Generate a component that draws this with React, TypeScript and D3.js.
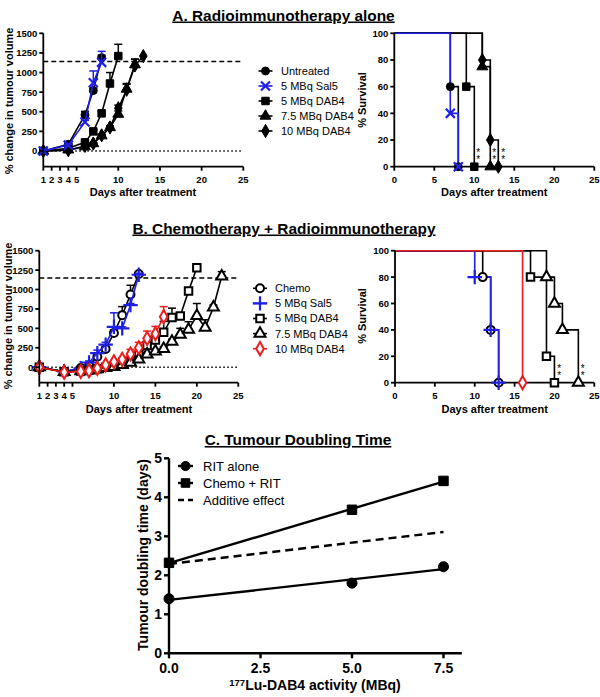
import React from 'react';
import * as d3 from 'd3';

const FONT = "'Liberation Sans', Arial, Helvetica, sans-serif";

// ---------- Panel A: tumour growth (RIT alone) ----------
const aUntreatedDays = [1, 4, 6, 7, 8];
const aUntreatedMean = [0, 85, 460, 770, 1190];
const aUntreatedSem = [0, 10, 45, 30, 30];
const aSal5Days = [1, 4, 6, 7, 8];
const aSal5Mean = [0, 75, 370, 870, 1130];
const aSal5Sem = [0, 10, 20, 150, 140];
const aDab5Days = [1, 4, 6, 7, 8, 9, 10];
const aDab5Mean = [0, 35, 110, 250, 480, 860, 1210];
const aDab5Sem = [0, 10, 15, 20, 30, 140, 150];
const aDab75Days = [1, 4, 6, 7, 8, 9, 10, 11, 12];
const aDab75Mean = [0, 15, 55, 95, 195, 300, 470, 790, 1100];
const aDab75Sem = [0, 5, 10, 10, 15, 20, 40, 60, 70];
const aDab10Days = [1, 4, 6, 7, 8, 9, 10, 11, 12, 13];
const aDab10Mean = [0, 10, 65, 95, 200, 300, 545, 780, 1090, 1210];
const aDab10Sem = [0, 5, 10, 10, 15, 20, 40, 80, 80, 0];

// ---------- Panel A: survival ----------
const sAUntreatedT = [0, 7, 8];
const sAUntreatedS = [100, 60, 0];
const sASal5T = [0, 7, 8];
const sASal5S = [100, 40, 0];
const sADab5T = [0, 9, 10];
const sADab5S = [100, 60, 0];
const sADab75T = [0, 11, 12];
const sADab75S = [100, 75, 0];
const sADab10T = [0, 11, 12, 13];
const sADab10S = [100, 80, 20, 0];
const sAStarDays = [10.5, 12.5, 13.6];

// ---------- Panel B: tumour growth (Chemo + RIT) ----------
const bChemoDays = [1, 4, 6, 7, 8, 9, 10, 11, 12, 13];
const bChemoMean = [0, -60, -10, 20, 135, 235, 440, 670, 935, 1200];
const bChemoSem = [0, 10, 10, 15, 20, 30, 40, 110, 120, 20];
const bSal5Days = [1, 4, 6, 7, 8, 9, 10, 11, 12, 13];
const bSal5Mean = [0, -55, -15, 60, 180, 290, 520, 500, 800, 1190];
const bSal5Sem = [0, 10, 10, 20, 40, 30, 180, 20, 20, 20];
const bDab5Days = [1, 4, 6, 7, 8, 9, 10, 11, 12, 13, 14, 15, 16, 17, 18, 19, 20];
const bDab5Mean = [0, -60, -50, -35, -20, 0, 15, 40, 80, 160, 280, 350, 450, 640, 660, 980, 1280];
const bDab5Sem = [0, 10, 10, 10, 10, 10, 10, 15, 20, 30, 40, 40, 140, 120, 30, 30, 20];
const bDab75Days = [1, 4, 6, 7, 8, 9, 10, 11, 12, 13, 14, 15, 16, 17, 18, 19, 20, 21, 22, 23];
const bDab75Mean = [0, -60, -50, -40, -25, -10, 5, 30, 60, 100, 165, 205, 235, 330, 420, 485, 660, 510, 770, 1170];
const bDab75Sem = [0, 10, 10, 10, 10, 10, 10, 10, 15, 20, 20, 25, 30, 30, 80, 100, 160, 100, 30, 60];
const bDab10Days = [1, 4, 6, 7, 8, 9, 10, 11, 12, 13, 14, 15, 16];
const bDab10Mean = [0, -65, -55, -45, -15, 30, 70, 100, 170, 250, 370, 430, 650];
const bDab10Sem = [0, 10, 10, 10, 10, 15, 15, 20, 60, 70, 95, 95, 130];

// ---------- Panel B: survival ----------
const sBChemoT = [0, 11, 12, 13];
const sBChemoS = [100, 80, 40, 0];
const sBSal5T = [0, 10, 12, 13];
const sBSal5S = [100, 80, 40, 0];
const sBDab5T = [0, 17, 19, 20];
const sBDab5S = [100, 80, 20, 0];
const sBDab75T = [0, 19, 20, 21, 23];
const sBDab75S = [100, 80, 60, 40, 0];
const sBDab10T = [0, 16];
const sBDab10S = [100, 0];
const sBStarDays = [20.6, 23.55];

// ---------- Panel C: doubling time ----------
const cActivity = [0, 5, 7.5];
const cRitAlone = [1.4, 1.8, 2.22];
const cChemoRit = [2.32, 3.68, 4.42];
const cAdditiveX = [0, 7.5];
const cAdditiveY = [2.29, 3.11];

// ---------- tick labels ----------
const growthYTicks = [0, 250, 500, 750, 1000, 1250, 1500];
const growthXTicks = [1, 2, 3, 4, 5, 10, 15, 20, 25];
const survYTicks = [0, 20, 40, 60, 80, 100];
const survXTicks = [0, 5, 10, 15, 20, 25];
const cYTicks = [0, 1, 2, 3, 4, 5];
const cXTicks = [0, 2.5, 5, 7.5];

const legendA = ['Untreated', '5 MBq Sal5', '5 MBq DAB4', '7.5 MBq DAB4', '10 MBq DAB4'];
const legendB = ['Chemo', '5 MBq Sal5', '5 MBq DAB4', '7.5 MBq DAB4', '10 MBq DAB4'];
const legendC = ['RIT alone', 'Chemo + RIT', 'Additive effect'];

const BLUE = '#1f1fe6';
const RED = '#ee1c1c';
const TICK_FS = 9.5;
const LABEL_FS = 11;

type Sym = 'circle' | 'square' | 'triangle' | 'diamond' | 'x' | 'plus';
const symType: Record<Sym, any> = {
  circle: d3.symbolCircle,
  square: d3.symbolSquare,
  triangle: d3.symbolTriangle,
  diamond: d3.symbolDiamond,
  x: d3.symbolX,
  plus: d3.symbolPlus,
};
const symSize: Record<Sym, number> = {
  circle: 50, square: 56, triangle: 52, diamond: 50, x: 55, plus: 70,
};

function Marker({ x, y, sym, color, open, scale = 1 }: any) {
  const path = d3.symbol().type(symType[sym as Sym]).size(symSize[sym as Sym] * scale)() as string;
  const strokeOnly = sym === 'x' || sym === 'plus';
  return (
    <path
      d={path}
      transform={`translate(${x},${y})`}
      fill={strokeOnly ? 'none' : open ? '#fff' : color}
      stroke={color}
      strokeWidth={strokeOnly ? 2.2 : open ? 2 : 1}
    />
  );
}

function GrowthSeries({ days, mean, sem, xs, ys, sym, color, open }: any) {
  const pts = days.map((d: number, i: number) => [xs(d), ys(mean[i])]);
  const line = d3.line()(pts) as string;
  return (
    <g>
      {days.map((d: number, i: number) =>
        sem[i] > 0 ? (
          <g key={i}>
            <line x1={xs(d)} x2={xs(d)} y1={ys(mean[i])} y2={ys(mean[i] + sem[i])} stroke={color} strokeWidth={1.5} />
            <line x1={xs(d) - 4} x2={xs(d) + 4} y1={ys(mean[i] + sem[i])} y2={ys(mean[i] + sem[i])} stroke={color} strokeWidth={1.5} />
          </g>
        ) : null
      )}
      <path d={line} fill="none" stroke={color} strokeWidth={1.6} />
      {days.map((d: number, i: number) => (
        <Marker key={'m' + i} x={xs(d)} y={ys(mean[i])} sym={sym} color={color} open={open} />
      ))}
    </g>
  );
}

function SurvivalLine({ t, s, xs, ys, color }: any) {
  const pts = t.map((d: number, i: number) => [xs(d), ys(s[i])]);
  const line = d3.line().curve(d3.curveStepAfter)(pts) as string;
  return <path d={line} fill="none" stroke={color} strokeWidth={1.6} />;
}
function SurvivalMarkers({ t, s, xs, ys, sym, color, open }: any) {
  return (
    <g>
      {t.slice(1).map((d: number, i: number) => (
        <Marker key={i} x={xs(d)} y={ys(s[i + 1])} sym={sym} color={color} open={open} />
      ))}
    </g>
  );
}

function AxisLeft({ scale, x, ticks, fmt, fontSize = TICK_FS, len = 4, sw = 1.8, domain }: any) {
  const [d0, d1] = domain || scale.domain();
  return (
    <g>
      <line x1={x} x2={x} y1={scale(d0)} y2={scale(d1)} stroke="#000" strokeWidth={sw} />
      {ticks.map((t: number) => (
        <g key={t}>
          <line x1={x - len} x2={x} y1={scale(t)} y2={scale(t)} stroke="#000" strokeWidth={sw} />
          <text x={x - len - 2} y={scale(t)} dy="0.36em" textAnchor="end" fontSize={fontSize} fontWeight="bold" fontFamily={FONT}>
            {fmt ? fmt(t) : t}
          </text>
        </g>
      ))}
    </g>
  );
}
function AxisBottom({ scale, y, ticks, fmt, fontSize = TICK_FS, len = 4, sw = 1.8, domain, labelDy = 12.5 }: any) {
  const [d0, d1] = domain || scale.domain();
  return (
    <g>
      <line x1={scale(d0)} x2={scale(d1)} y1={y} y2={y} stroke="#000" strokeWidth={sw} />
      {ticks.map((t: number) => (
        <g key={t}>
          <line x1={scale(t)} x2={scale(t)} y1={y} y2={y + len} stroke="#000" strokeWidth={sw} />
          <text x={scale(t)} y={y + labelDy} dy="0.36em" textAnchor="middle" fontSize={fontSize} fontWeight="bold" fontFamily={FONT}>
            {fmt ? fmt(t) : t}
          </text>
        </g>
      ))}
    </g>
  );
}

function Title({ x, y, text }: any) {
  return (
    <text x={x} y={y} textAnchor="middle" fontSize={15.4} fontWeight="bold" fontFamily={FONT} textDecoration="underline">
      {text}
    </text>
  );
}

// two stacked asterisks as one vertical text run
function Stars({ days, xs, ys }: any) {
  return (
    <g>
      {days.map((d: number, i: number) => (
        <text
          key={i}
          x={xs(d)}
          y={ys(15)}
          fontSize={10}
          fontFamily={FONT}
          style={{ writingMode: 'vertical-rl', textOrientation: 'upright', letterSpacing: '-4px' } as any}
        >
          **
        </text>
      ))}
    </g>
  );
}

function Legend({ x, text, y0, dy, items, syms, colors, open, fontSize = 11 }: any) {
  return (
    <g>
      {items.map((lab: string, i: number) => (
        <g key={i}>
          <line x1={x - 7} x2={x + 7} y1={y0 + i * dy} y2={y0 + i * dy} stroke={colors[i]} strokeWidth={1.6} />
          <Marker x={x} y={y0 + i * dy} sym={syms[i]} color={colors[i]} open={open} />
          <text x={text} y={y0 + i * dy} dy="0.36em" fontSize={fontSize} fontFamily={FONT}>{lab}</text>
        </g>
      ))}
    </g>
  );
}

export default function App() {
  // Panel A scales
  const xA = d3.scaleLinear().domain([1, 25]).range([43.3, 243.3]);
  const yA = d3.scaleLinear().domain([-200, 1500]).range([166.7, 33.3]);
  const xSA = d3.scaleLinear().domain([0, 25]).range([394.3, 594.3]);
  const ySA = d3.scaleLinear().domain([0, 100]).range([166.7, 33.3]);
  // Panel B scales
  const xB = d3.scaleLinear().domain([1, 25]).range([39.3, 238.3]);
  const yB = d3.scaleLinear().domain([-200, 1500]).range([382.7, 250.7]);
  const xSB = d3.scaleLinear().domain([0, 25]).range([395, 594.3]);
  const ySB = d3.scaleLinear().domain([0, 100]).range([382.7, 250.7]);
  // Panel C scales
  const xC = d3.scaleLinear().domain([0, 8]).range([169, 461.8]);
  const yC = d3.scaleLinear().domain([0, 5]).range([653.3, 458.3]);

  const reg = (xs: number[], ys: number[]) => {
    const mx = d3.mean(xs) as number;
    const my = d3.mean(ys) as number;
    const sxy = d3.sum(xs.map((v, i) => (v - mx) * (ys[i] - my)));
    const sxx = d3.sum(xs.map((v) => (v - mx) ** 2));
    const b = sxy / sxx;
    return [my - b * mx, b];
  };
  const [aR, bR] = reg(cActivity, cRitAlone);
  const [aC, bC] = reg(cActivity, cChemoRit);
  const lineC = d3.line<number[]>().x((d) => xC(d[0])).y((d) => yC(d[1]));

  const symsA: Sym[] = ['circle', 'x', 'square', 'triangle', 'diamond'];
  const colsA = ['#000', BLUE, '#000', '#000', '#000'];
  const symsB: Sym[] = ['circle', 'plus', 'square', 'triangle', 'diamond'];
  const colsB = ['#000', BLUE, '#000', '#000', RED];

  const axisLabel = (x: number, y: number, text: string, rotate = false, fs = LABEL_FS) => (
    <text
      transform={rotate ? `translate(${x},${y}) rotate(-90)` : `translate(${x},${y})`}
      dy="0.36em" textAnchor="middle" fontSize={fs} fontWeight="bold" fontFamily={FONT}
    >
      {text}
    </text>
  );

  return (
    <svg width={600} height={697} style={{ position: 'absolute', left: 0, top: 0, background: '#fff' }}>
      <rect width={600} height={697} fill="#fff" />
      {/* ================= Panel A ================= */}
      <Title x={283.5} y={20.5} text="A. Radioimmunotherapy alone" />
      <line x1={xA(1)} x2={xA(25)} y1={yA(1140)} y2={yA(1140)} stroke="#000" strokeWidth={1.5} strokeDasharray="5,3" />
      <line x1={xA(1)} x2={xA(25)} y1={yA(0)} y2={yA(0)} stroke="#000" strokeWidth={1.5} strokeDasharray="1.5,2.5" />
      <GrowthSeries days={aUntreatedDays} mean={aUntreatedMean} sem={aUntreatedSem} xs={xA} ys={yA} sym="circle" color="#000" />
      <GrowthSeries days={aDab5Days} mean={aDab5Mean} sem={aDab5Sem} xs={xA} ys={yA} sym="square" color="#000" />
      <GrowthSeries days={aDab75Days} mean={aDab75Mean} sem={aDab75Sem} xs={xA} ys={yA} sym="triangle" color="#000" />
      <GrowthSeries days={aDab10Days} mean={aDab10Mean} sem={aDab10Sem} xs={xA} ys={yA} sym="diamond" color="#000" />
      <GrowthSeries days={aSal5Days} mean={aSal5Mean} sem={aSal5Sem} xs={xA} ys={yA} sym="x" color={BLUE} />
      <AxisLeft scale={yA} x={xA(1)} ticks={growthYTicks} />
      <AxisBottom scale={xA} y={yA(-200)} ticks={growthXTicks} />
      {axisLabel(143, 192, 'Days after treatment')}
      {axisLabel(9, 101, '% change in tumour volume', true)}
      <Legend x={265.5} text={281} y0={71} dy={15} items={legendA} syms={symsA} colors={colsA} />

      {/* survival A */}
      <SurvivalLine t={sAUntreatedT} s={sAUntreatedS} xs={xSA} ys={ySA} color="#000" />
      <SurvivalLine t={sADab5T} s={sADab5S} xs={xSA} ys={ySA} color="#000" />
      <SurvivalLine t={sADab75T} s={sADab75S} xs={xSA} ys={ySA} color="#000" />
      <SurvivalLine t={sADab10T} s={sADab10S} xs={xSA} ys={ySA} color="#000" />
      <SurvivalLine t={sASal5T} s={sASal5S} xs={xSA} ys={ySA} color={BLUE} />
      <AxisLeft scale={ySA} x={xSA(0)} ticks={survYTicks} />
      <AxisBottom scale={xSA} y={ySA(0)} ticks={survXTicks} />
      <SurvivalMarkers t={sAUntreatedT} s={sAUntreatedS} xs={xSA} ys={ySA} sym="circle" color="#000" />
      <SurvivalMarkers t={sADab5T} s={sADab5S} xs={xSA} ys={ySA} sym="square" color="#000" />
      <SurvivalMarkers t={sADab75T} s={sADab75S} xs={xSA} ys={ySA} sym="triangle" color="#000" />
      <SurvivalMarkers t={sADab10T} s={sADab10S} xs={xSA} ys={ySA} sym="diamond" color="#000" />
      <SurvivalMarkers t={sASal5T} s={sASal5S} xs={xSA} ys={ySA} sym="x" color={BLUE} />
      <Stars days={sAStarDays} xs={xSA} ys={ySA} />
      {axisLabel(xSA(12.5), 192, 'Days after treatment')}
      {axisLabel(362, 100, '% Survival', true)}

      {/* ================= Panel B ================= */}
      <Title x={284} y={233.5} text="B. Chemotherapy + Radioimmunotherapy" />
      <line x1={xB(1)} x2={xB(25)} y1={yB(1150)} y2={yB(1150)} stroke="#000" strokeWidth={1.5} strokeDasharray="5,3" />
      <line x1={xB(1)} x2={xB(25)} y1={yB(0)} y2={yB(0)} stroke="#000" strokeWidth={1.5} strokeDasharray="1.5,2.5" />
      <GrowthSeries days={bChemoDays} mean={bChemoMean} sem={bChemoSem} xs={xB} ys={yB} sym="circle" color="#000" open />
      <GrowthSeries days={bSal5Days} mean={bSal5Mean} sem={bSal5Sem} xs={xB} ys={yB} sym="plus" color={BLUE} />
      <GrowthSeries days={bDab5Days} mean={bDab5Mean} sem={bDab5Sem} xs={xB} ys={yB} sym="square" color="#000" open />
      <GrowthSeries days={bDab75Days} mean={bDab75Mean} sem={bDab75Sem} xs={xB} ys={yB} sym="triangle" color="#000" open />
      <GrowthSeries days={bDab10Days} mean={bDab10Mean} sem={bDab10Sem} xs={xB} ys={yB} sym="diamond" color={RED} open />
      <AxisLeft scale={yB} x={xB(1)} ticks={growthYTicks} />
      <AxisBottom scale={xB} y={yB(-200)} ticks={growthXTicks} />
      {axisLabel(139, 409, 'Days after treatment')}
      {axisLabel(8, 316, '% change in tumour volume', true)}
      <Legend x={260} text={275} y0={288.3} dy={15.1} items={legendB} syms={symsB} colors={colsB} open />

      {/* survival B */}
      <SurvivalLine t={sBChemoT} s={sBChemoS} xs={xSB} ys={ySB} color="#000" />
      <SurvivalLine t={sBDab5T} s={sBDab5S} xs={xSB} ys={ySB} color="#000" />
      <SurvivalLine t={sBDab75T} s={sBDab75S} xs={xSB} ys={ySB} color="#000" />
      <SurvivalLine t={sBSal5T} s={sBSal5S} xs={xSB} ys={ySB} color={BLUE} />
      <SurvivalLine t={sBDab10T} s={sBDab10S} xs={xSB} ys={ySB} color={RED} />
      <AxisLeft scale={ySB} x={xSB(0)} ticks={survYTicks} />
      <AxisBottom scale={xSB} y={ySB(0)} ticks={survXTicks} />
      <SurvivalMarkers t={sBChemoT} s={sBChemoS} xs={xSB} ys={ySB} sym="circle" color="#000" open />
      <SurvivalMarkers t={sBDab5T} s={sBDab5S} xs={xSB} ys={ySB} sym="square" color="#000" open />
      <SurvivalMarkers t={sBDab75T} s={sBDab75S} xs={xSB} ys={ySB} sym="triangle" color="#000" open />
      <SurvivalMarkers t={sBSal5T} s={sBSal5S} xs={xSB} ys={ySB} sym="plus" color={BLUE} />
      <SurvivalMarkers t={sBDab10T} s={sBDab10S} xs={xSB} ys={ySB} sym="diamond" color={RED} open />
      <Stars days={sBStarDays} xs={xSB} ys={ySB} />
      {axisLabel(xSB(12.5), 409, 'Days after treatment')}
      {axisLabel(362, 316, '% Survival', true)}

      {/* ================= Panel C ================= */}
      <Title x={298} y={445} text={'C.  Tumour Doubling Time'} />
      <path d={lineC([[0, aR], [7.5, aR + bR * 7.5]]) as string} fill="none" stroke="#000" strokeWidth={2.4} />
      <path d={lineC([[0, aC], [7.5, aC + bC * 7.5]]) as string} fill="none" stroke="#000" strokeWidth={2.4} />
      <path d={lineC(cAdditiveX.map((v, i) => [v, cAdditiveY[i]])) as string} fill="none" stroke="#000" strokeWidth={2.4} strokeDasharray="8,5" />
      {cActivity.map((v, i) => (
        <Marker key={'r' + i} x={xC(v)} y={yC(cRitAlone[i])} sym="circle" color="#000" scale={1.6} />
      ))}
      {cActivity.map((v, i) => (
        <Marker key={'c' + i} x={xC(v)} y={yC(cChemoRit[i])} sym="square" color="#000" scale={1.6} />
      ))}
      <AxisLeft scale={yC} x={xC(0)} ticks={cYTicks} fontSize={14} len={5} sw={2.4} />
      <AxisBottom scale={xC} y={yC(0)} ticks={cXTicks} fmt={(t: number) => t.toFixed(1)} fontSize={14} len={5} sw={2.4} labelDy={14.5} />
      <text x={315} y={689} dy="0.36em" textAnchor="middle" fontSize={14} fontWeight="bold" fontFamily={FONT}>
        <tspan fontSize={9.5} dy="-0.3em">177</tspan>
        <tspan dy="0.3em">Lu-DAB4 activity (MBq)</tspan>
      </text>
      {axisLabel(143, 555, 'Tumour doubling time (days)', true, 14)}
      {legendC.map((lab, i) => (
        <g key={lab}>
          <line x1={178} x2={193} y1={466 + i * 17} y2={466 + i * 17} stroke="#000" strokeWidth={2.4} strokeDasharray={i === 2 ? '6,4' : undefined} />
          {i < 2 ? <Marker x={185.5} y={466 + i * 17} sym={i === 0 ? 'circle' : 'square'} color="#000" scale={1.3} /> : null}
          <text x={203} y={466 + i * 17} dy="0.36em" fontSize={13} fontFamily={FONT}>{lab}</text>
        </g>
      ))}
    </svg>
  );
}
